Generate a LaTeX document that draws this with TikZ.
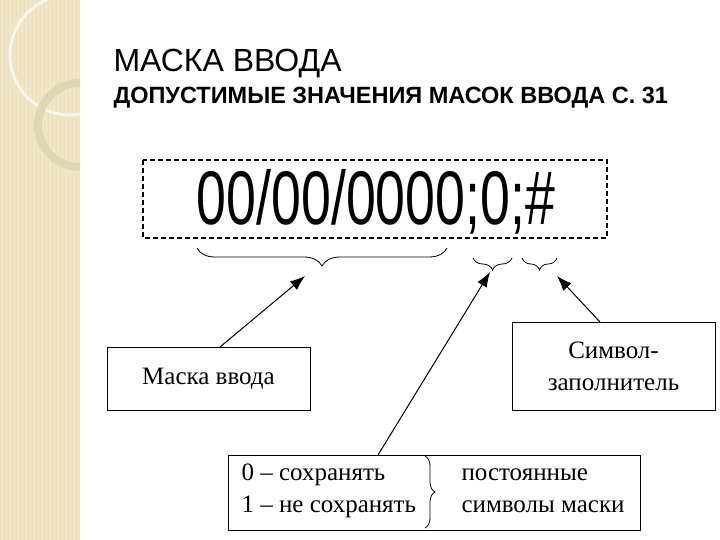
\documentclass[tikz,border=0pt]{standalone}
\usepackage{fontspec}
\setmainfont{Liberation Serif}
\newfontfamily\sansf{Liberation Sans}
\usetikzlibrary{decorations.pathreplacing,arrows.meta}
\definecolor{beige}{RGB}{238,226,192}
\definecolor{ringc}{RGB}{225,214,180}
\tikzset{lbl/.style={draw,line width=1pt,inner sep=0pt},
 arr/.style={line width=1pt,-{Latex[length=15pt,width=11pt]}},
 br/.style={decorate,decoration={brace,mirror,amplitude=#1},line width=0.8pt}}
\begin{document}
\begin{tikzpicture}[x=1pt,y=-1pt]
\useasboundingbox (0,0) rectangle (720,540);
\fill[white] (0,0) rectangle (720,540);
\fill[beige] (0,0) rectangle (80,540);
\foreach \i in {2,6,...,78} \draw[white,opacity=0.25,line width=0.6pt] (\i,0)--(\i,540);
\begin{scope}
\clip (0,0) rectangle (80,540);
\draw[white,opacity=0.7,line width=3pt] (70,55) circle (60);
\draw[ringc,line width=8pt] (80,125) circle (42);
\end{scope}
\node[anchor=base west,font=\sansf\fontsize{32}{36}\selectfont] (t) at (110,72) {МАСКА ВВОДА};
\node[anchor=base west,font=\sansf\bfseries\fontsize{23.5}{26}\selectfont] (st) at (110,104) {ДОПУСТИМЫЕ ЗНАЧЕНИЯ МАСОК ВВОДА С. 31};
\draw[line width=1.6pt,dash pattern=on 5pt off 3pt] (143,160) rectangle (607,238);
\node[anchor=base,font=\sansf\fontsize{76}{80}\selectfont,xscale=0.706] (m) at (376,225) {00/00/0000;0;\#};
\draw[br=18pt] (197,248) -- (447,248);
\draw[br=12pt] (473,258) -- (512,258);
\draw[br=12pt] (522,258) -- (557,258);
\node[lbl,minimum width=203pt,minimum height=63pt,font=\fontsize{25}{29}\selectfont] (mv) at (208.5,378.5) {Маска ввода};
\node[lbl,minimum width=203pt,minimum height=88pt,align=center,font=\fontsize{25}{32}\selectfont] (sz) at (613.5,366) {Символ-\\заполнитель};
\node[lbl,minimum width=412pt,minimum height=75pt] (bt) at (434,492.5) {};
\node[anchor=base west,font=\fontsize{25}{29}\selectfont] (l1) at (238,480) {0 – сохранять};
\node[anchor=base west,font=\fontsize{25}{29}\selectfont] (l2) at (238,512) {1 – не сохранять};
\node[anchor=base west,font=\fontsize{25}{29}\selectfont] (r1) at (458,480) {постоянные};
\node[anchor=base west,font=\fontsize{25}{29}\selectfont] (r2) at (458,512) {символы маски};
\draw[decorate,decoration={brace,amplitude=10pt},line width=0.8pt] (425,456) -- (425,528);
\coordinate (a1) at (220,347);
\coordinate (a2) at (378,455);
\coordinate (a3) at (600,322);
\draw[arr] (a1) -- (305,276);
\draw[arr] (a2) -- (490,272);
\draw[arr] (a3) -- (557,276);
\end{tikzpicture}
\end{document}
